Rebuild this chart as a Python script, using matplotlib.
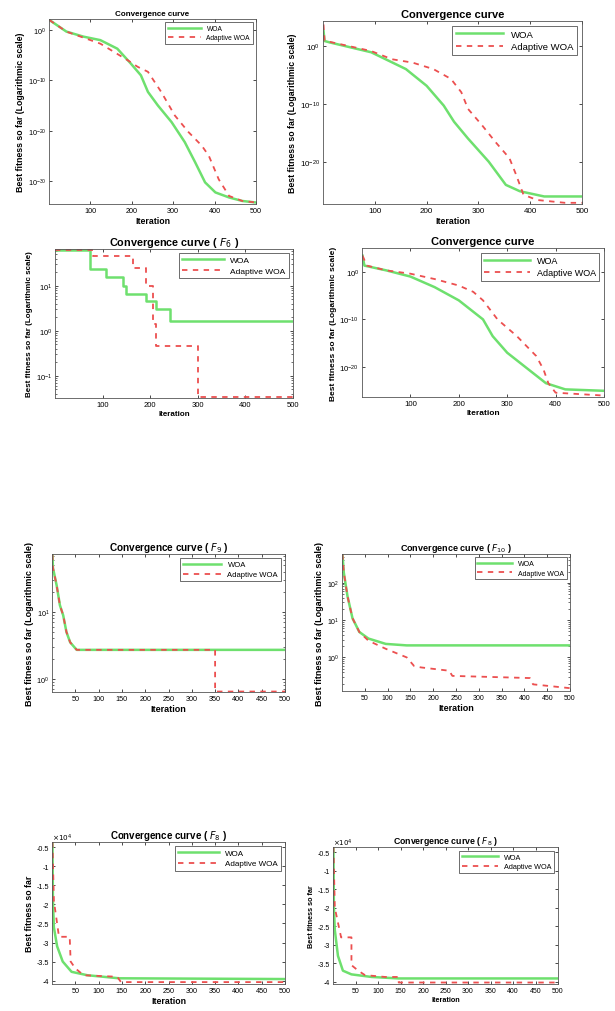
import matplotlib
matplotlib.use("Agg")
import matplotlib.pyplot as plt
from matplotlib.ticker import FuncFormatter, NullLocator

plt.rcParams["font.family"] = ["Liberation Sans", "DejaVu Sans"]

W, H = 615, 1012
GREEN = "#6ee06e"
RED = "#ec4f4f"

# --- panel 1 (log) ---
p1_woa_x = [1, 42, 83, 124, 165, 198, 222, 239, 263, 296, 328, 353, 377, 402, 435, 467, 500]
p1_woa_y = [1e2, 5e-1, 5e-2, 1e-2, 2e-4, 2e-7, 1e-9, 5e-13, 1e-15, 5e-19, 5e-23, 5e-27,
            5e-31, 5e-33, 5e-34, 1e-34, 5e-35]
p1_awoa_x = [1, 42, 124, 190, 214, 239, 271, 304, 337, 369, 386, 410, 435, 467, 500]
p1_awoa_y = [1e2, 5e-1, 2e-3, 1e-6, 5e-8, 5e-9, 5e-13, 1e-17, 5e-21, 1e-23, 1e-25, 2e-30,
             1e-33, 1e-34, 5e-35]

# --- panel 2 (log) ---
p2_woa_x = [1, 3, 13, 93, 160, 200, 233, 253, 280, 320, 353, 380, 427, 500]
p2_woa_y = [4e2, 7e0, 4e0, 8e-2, 1e-4, 1.3e-7, 5e-11, 8e-14, 1e-16, 1e-20, 1e-24, 8e-26,
            1e-26, 1e-26]
p2_awoa_x = [1, 3, 93, 133, 173, 213, 247, 267, 280, 307, 333, 360, 373, 387, 413, 467, 500]
p2_awoa_y = [5e3, 8e0, 1.3e-1, 5e-3, 1.3e-3, 1e-4, 2e-6, 1e-8, 1.3e-11, 2e-14, 2.5e-17,
             4e-20, 5e-23, 2e-26, 2.5e-27, 8e-28, 8e-28]

# --- panel 3 (log, step-like, F6) ---
p3_woa_x = [1, 73, 108, 143, 150, 192, 213, 241, 500]
p3_woa_y = [63, 24, 16, 10, 6.6, 4.7, 3.1, 1.66, 1.66]
p3_awoa_x = [1, 80, 164, 192, 206, 213, 300, 500]
p3_awoa_y = [63, 47, 25, 10, 1.45, 0.47, 0.033, 0.033]

# --- panel 4 (log) ---
p4_woa_x = [1, 5, 50, 100, 150, 200, 250, 270, 300, 350, 380, 420, 500]
p4_woa_y = [2.5e3, 2e1, 2e0, 1e-1, 6e-4, 1e-6, 1e-10, 3e-14, 1e-17, 1e-21, 4e-24, 2e-25, 1e-25]
p4_awoa_x = [1, 10, 50, 100, 150, 200, 230, 250, 280, 320, 360, 375, 385, 400, 500]
p4_awoa_y = [2.5e3, 2e1, 2e0, 4e-1, 3e-2, 1.3e-3, 6e-5, 1e-6, 1e-10, 3e-14, 2e-18, 3e-21,
             4e-24, 4e-26, 1e-26]

# --- panel 5 (log, F9) ---
p5_woa_x = [1, 2, 10, 17, 24, 31, 39, 53, 500]
p5_woa_y = [72, 46, 25, 12.6, 8.9, 5.0, 3.5, 2.7, 2.7]
p5_awoa_x = [1, 2, 10, 17, 24, 31, 39, 53, 350, 350, 500]
p5_awoa_y = [72, 46, 25, 12.6, 8.9, 5.0, 3.5, 2.7, 2.7, 0.64, 0.64]

# --- panel 6 (log, F10) ---
p6_woa_x = [1, 4, 12, 23, 38, 58, 96, 142, 500]
p6_woa_y = [580, 186, 44, 11.2, 4.8, 3.2, 2.3, 2.1, 2.1]
p6_awoa_x = [1, 4, 12, 23, 38, 58, 96, 142, 158, 173, 235, 242, 412, 419, 500]
p6_awoa_y = [580, 186, 44, 11.2, 4.8, 2.8, 1.7, 1.0, 0.59, 0.54, 0.44, 0.32, 0.28, 0.19, 0.15]

# --- panel 7 (linear, F8) ---
p7_woa_x = [1, 2, 4, 11, 23, 42, 76, 144, 500]
p7_woa_y = [-3600, -19000, -26000, -31000, -35000, -37700, -38600, -39400, -39600]
p7_awoa_x = [1, 4, 15, 38, 40, 50, 68, 140, 148, 500]
p7_awoa_y = [-3600, -19000, -28500, -28500, -35000, -36800, -38600, -39000, -40400, -40400]

# --- panel 8 (linear, F8) ---
p8_woa_x = [1, 2, 4, 11, 22, 41, 86, 146, 500]
p8_woa_y = [-3600, -20000, -26000, -33000, -37000, -38000, -38700, -39100, -39100]
p8_awoa_x = [1, 4, 18, 41, 41, 56, 71, 116, 146, 146, 500]
p8_awoa_y = [-3600, -20000, -28000, -28000, -35500, -37000, -38200, -38700, -38700, -40200, -40200]

x_ticks_coarse = [100, 200, 300, 400, 500]
x_ticks_fine = [50, 100, 150, 200, 250, 300, 350, 400, 450, 500]
lin_ticks = [-40000, -35000, -30000, -25000, -20000, -15000, -10000, -5000]

# each entry: pixel box (l, t, r, b), title, series, log?, ylim, yticks, xticks,
# font sizes (title, label, ticks, legend), step drawing?
panels = [
    ((49, 20, 256, 205), "Convergence curve",
     (p1_woa_x, p1_woa_y, p1_awoa_x, p1_awoa_y), True, (2.5e-35, 1.6e2),
     [1e-30, 1e-20, 1e-10, 1e0], x_ticks_coarse, (5.8, 6.3, 5.2, 4.8), False),
    ((323, 22, 582, 205), "Convergence curve",
     (p2_woa_x, p2_woa_y, p2_awoa_x, p2_awoa_y), True, (5e-28, 2e4),
     [1e-20, 1e-10, 1e0], x_ticks_coarse, (8.0, 6.3, 5.8, 6.8), False),
    ((55, 250, 293, 399), r"Convergence curve ( $F_{6}$ )",
     (p3_woa_x, p3_woa_y, p3_awoa_x, p3_awoa_y), True, (0.032, 66),
     [1e-1, 1e0, 1e1], x_ticks_coarse, (7.8, 5.8, 5.5, 6.0), True),
    ((362, 249, 604, 398), "Convergence curve",
     (p4_woa_x, p4_woa_y, p4_awoa_x, p4_awoa_y), True, (5e-27, 1e5),
     [1e-20, 1e-10, 1e0], x_ticks_coarse, (8.0, 6.0, 5.6, 6.5), False),
    ((52, 555, 285, 693), r"Convergence curve ( $F_{9}$ )",
     (p5_woa_x, p5_woa_y, p5_awoa_x, p5_awoa_y), True, (0.63, 74),
     [1e0, 1e1], x_ticks_fine, (7.2, 6.5, 5.2, 5.5), False),
    ((342, 555, 570, 692), r"Convergence curve ( $F_{10}$ )",
     (p6_woa_x, p6_woa_y, p6_awoa_x, p6_awoa_y), True, (0.126, 589),
     [1e0, 1e1, 1e2], x_ticks_fine, (6.5, 6.5, 5.0, 5.0), False),
    ((52, 843, 285, 985), r"Convergence curve ( $F_{8}$ )",
     (p7_woa_x, p7_woa_y, p7_awoa_x, p7_awoa_y), False, (-40900, -3600),
     lin_ticks, x_ticks_fine, (7.0, 6.3, 5.2, 5.8), False),
    ((333, 848, 558, 985), r"Convergence curve ( $F_{8}$ )",
     (p8_woa_x, p8_woa_y, p8_awoa_x, p8_awoa_y), False, (-40600, -3600),
     lin_ticks, x_ticks_fine, (6.3, 5.2, 5.0, 5.2), False),
]

fig = plt.figure(figsize=(W / 100, H / 100), dpi=100)

for box, title, (wx, wy, ax_x, ax_y), is_log, ylim, yticks, xticks, fs, steps in panels:
    f_title, f_label, f_tick, f_leg = fs
    l, t, r, b = box
    ax = fig.add_axes([l / W, 1 - b / H, (r - l) / W, (b - t) / H])
    ds = "steps-post" if steps else "default"
    ax.plot(wx, wy, color=GREEN, linewidth=1.8, label="WOA", drawstyle=ds)
    ax.plot(ax_x, ax_y, color=RED, linewidth=1.3, linestyle=(0, (3, 3)),
            label="Adaptive WOA", drawstyle=ds)
    if is_log:
        ax.set_yscale("log")
        ax.set_ylabel("Best fitness so far (Logarithmic scale)", fontsize=f_label,
                      fontweight="bold", labelpad=2)
        if ylim[1] / ylim[0] > 1e6:
            ax.yaxis.set_minor_locator(NullLocator())
    else:
        ax.set_ylabel("Best fitness so far", fontsize=f_label, fontweight="bold", labelpad=2)
        ax.yaxis.set_major_formatter(FuncFormatter(lambda v, _: f"{v / 1e4:g}"))
        ax.text(0.0, 1.01, r"$\times10^{4}$", transform=ax.transAxes, fontsize=f_tick)
    ax.set_ylim(*ylim)
    ax.set_yticks(yticks)
    ax.set_xlim(0, 500)
    ax.set_xticks(xticks)
    ax.set_xlabel("Iteration", fontsize=f_label, fontweight="bold", labelpad=1.5)
    ax.set_title(title, fontsize=f_title, fontweight="bold", pad=3)
    ax.tick_params(direction="in", top=True, right=True, labelsize=f_tick, length=2.5,
                   width=0.5, pad=2)
    ax.tick_params(which="minor", direction="in", top=True, right=True, length=1.3, width=0.4)
    for s in ax.spines.values():
        s.set_linewidth(0.6)
        s.set_color("#555555")
    leg = ax.legend(loc="upper right", fontsize=f_leg, handlelength=5, borderpad=0.4,
                    labelspacing=0.35, fancybox=False, framealpha=1)
    leg.get_frame().set_edgecolor("#333333")
    leg.get_frame().set_linewidth(0.5)

fig.savefig("out.png", dpi=100)
